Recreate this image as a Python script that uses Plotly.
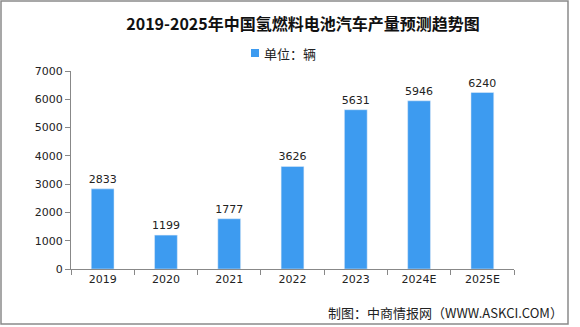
import plotly.graph_objects as go

categories = ["2019", "2020", "2021", "2022", "2023", "2024E", "2025E"]
values = [2833, 1199, 1777, 3626, 5631, 5946, 6240]
y_ticks = [0, 1000, 2000, 3000, 4000, 5000, 6000, 7000]

W, H = 580, 327
L, R, T, B = 71, 514, 71, 269
pw, ph = R - L, B - T


def px(x):
    return (x - L) / pw


def py(y):
    return (B - y) / ph


fig = go.Figure()
fig.add_trace(go.Bar(
    x=categories, y=values, name="单位：辆",
    marker=dict(color="#3d9bf0"),
    width=0.36,
    text=[str(v) for v in values], textposition="outside",
    constraintext="none",
    textfont=dict(size=11, color="#222222", family="DejaVu Sans"),
    cliponaxis=False,
    showlegend=False,
))

fig.update_layout(
    width=W, height=H,
    margin=dict(l=L, r=W - R, t=T, b=H - B, autoexpand=False),
    paper_bgcolor="white", plot_bgcolor="white",
    title=dict(text="<b>2019-2025年中国氢燃料电池汽车产量预测趋势图</b>",
               x=303 / W, xanchor="center", y=1 - 24 / H, yanchor="middle",
               font=dict(size=16, color="#111111", family="Noto Sans CJK SC")),
    showlegend=False,
    xaxis=dict(showline=True, linecolor="#888888", ticks="outside", tickcolor="#888888",
               ticklen=5, tickson="boundaries",
               tickfont=dict(size=11, color="#222222", family="DejaVu Sans")),
    yaxis=dict(range=[0, 7000], tickvals=y_ticks, showgrid=False, showline=True,
               linecolor="#888888", ticks="outside", tickcolor="#888888", ticklen=5,
               tickfont=dict(size=11, color="#222222", family="DejaVu Sans"),
               zeroline=False),
    shapes=[
        dict(type="rect", xref="paper", yref="paper",
             x0=px(1), x1=px(568), y0=py(324), y1=py(1),
             line=dict(color="#8a8a8a", width=1.5)),
        dict(type="rect", xref="paper", yref="paper",
             x0=px(251), x1=px(259), y0=py(57), y1=py(49),
             fillcolor="#3d9bf0", line=dict(width=0)),
    ],
    annotations=[
        dict(text="单位：辆", xref="paper", yref="paper",
             x=px(262), xanchor="left", y=py(53), yanchor="middle", showarrow=False,
             font=dict(size=13, color="#222222", family="Noto Sans CJK SC")),
        dict(text="制图：中商情报网（WWW.ASKCI.COM）", xref="paper", yref="paper",
             x=px(565), xanchor="right", y=py(312), yanchor="middle", showarrow=False,
             font=dict(size=13, color="#222222", family="Noto Sans CJK SC")),
    ],
)
fig.write_html("out.html")
